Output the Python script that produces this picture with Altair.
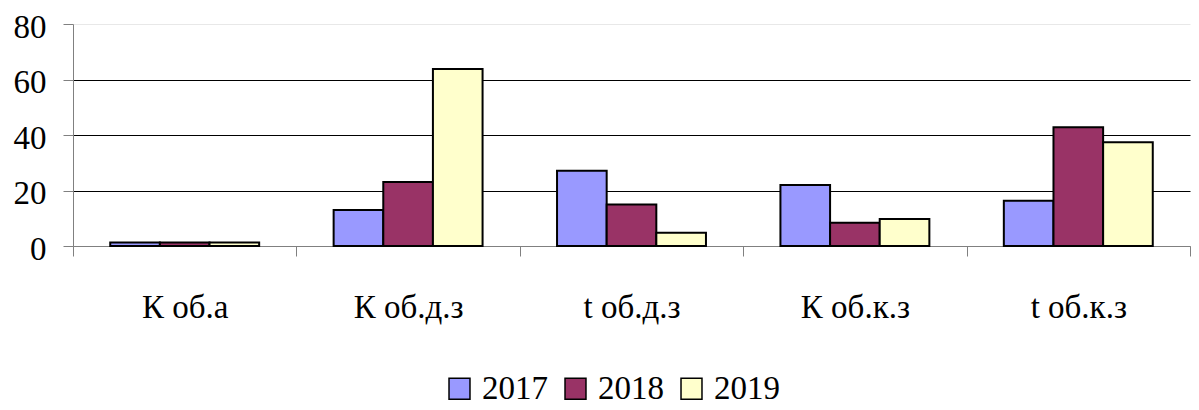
import altair as alt
import pandas as pd

categories = ["К об.а", "К об.д.з", "t об.д.з", "К об.к.з", "t об.к.з"]
years = ["2017", "2018", "2019"]
v2017 = [1.3, 13.0, 27.1, 22.0, 16.3]
v2018 = [1.3, 23.1, 15.0, 8.4, 42.8]
v2019 = [1.3, 63.8, 4.8, 9.7, 37.4]
colors = ["#9999FF", "#993366", "#FFFFCC"]

rows = []
for yr, vals in zip(years, [v2017, v2018, v2019]):
    for c, v in zip(categories, vals):
        rows.append({"cat": c, "year": yr, "value": v})
df = pd.DataFrame(rows)

FONT = "Liberation Serif"

chart = alt.Chart(df).mark_bar(stroke="black", strokeWidth=2).encode(
    x=alt.X("cat:N", sort=categories,
            scale=alt.Scale(paddingInner=0, paddingOuter=0),
            axis=alt.Axis(title=None, labelAngle=0, tickBand="extent", grid=False,
                          labelFont=FONT, labelFontSize=33, labelColor="black",
                          tickColor="#808080", tickSize=10, domainColor="#808080",
                          labelPadding=35)),
    xOffset=alt.XOffset("year:N", sort=years,
                        scale=alt.Scale(paddingInner=0, paddingOuter=0.75)),
    y=alt.Y("value:Q", scale=alt.Scale(domain=[0, 80]),
            axis=alt.Axis(title=None, values=[0, 20, 40, 60, 80],
                          labelFont=FONT, labelFontSize=33, labelColor="black",
                          tickColor="#808080", tickSize=10, domainColor="#808080",
                          labelPadding=17, labelOffset=3,
                          gridColor={"condition": [
                              {"test": "datum.value == 80", "value": "#e8e8e8"},
                              {"test": "datum.value == 0", "value": "#808080"}],
                              "value": "#000000"})),
    color=alt.Color("year:N", sort=years,
                    scale=alt.Scale(domain=years, range=colors),
                    legend=alt.Legend(title=None, orient="none", direction="horizontal",
                                      legendX=370, legendY=348,
                                      symbolType="square", symbolSize=440,
                                      symbolStrokeColor="black", symbolStrokeWidth=1.5,
                                      symbolOpacity=1,
                                      labelFont=FONT, labelFontSize=33, labelColor="black",
                                      labelOffset=6, columnPadding=11)),
).properties(
    width=1117, height=222, padding={"left": 5, "top": 3, "right": 0, "bottom": 0}
).configure_view(stroke=None)

chart.save("out.html", embed_options={"renderer": "svg", "actions": False})
